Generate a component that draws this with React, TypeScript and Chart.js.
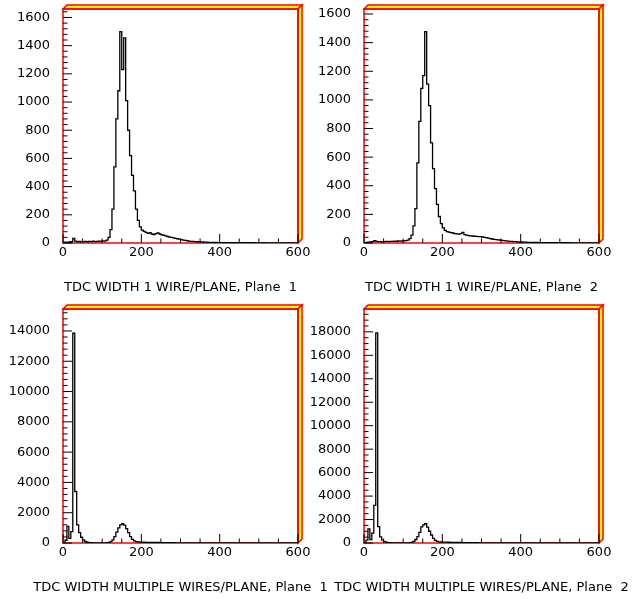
import React, { useEffect, useRef } from 'react';
import { Chart, registerables } from 'chart.js';

Chart.register(...registerables);

// ---- data: 120 bins of width 5 over 0..600 ----
const BIN_WIDTH = 5;
const X_MIN = 0;
const X_MAX = 600;
const X_MAJOR = 200;
const X_MINOR = 50;

const singlePlane1 = [
  3, 4, 6, 5, 7, 9, 32, 14, 9, 11,
  8, 10, 12, 9, 11, 10, 13, 10, 12, 14,
  12, 15, 13, 20, 40, 95, 240, 540, 880, 1080,
  1500, 1230, 1455, 1010, 800, 620, 480, 370, 240, 160,
  115, 92, 82, 76, 68, 74, 64, 60, 66, 72,
  64, 58, 55, 50, 46, 42, 40, 36, 33, 30,
  28, 24, 21, 18, 16, 14, 12, 11, 10, 9,
  8, 8, 7, 6, 6, 5, 5, 4, 4, 4,
  3, 3, 3, 3, 3, 2, 3, 2, 2, 2,
  2, 2, 2, 2, 2, 2, 2, 1, 2, 1,
  1, 1, 1, 2, 1, 1, 1, 1, 1, 1,
  1, 1, 1, 1, 1, 1, 1, 1, 1, 1,
];

const singlePlane2 = [
  2, 3, 5, 6, 7, 9, 16, 11, 9, 10,
  8, 10, 11, 10, 12, 11, 13, 12, 14, 13,
  14, 15, 17, 20, 30, 55, 120, 240, 560, 850,
  1080, 1170, 1476, 1110, 960, 700, 520, 380, 270, 185,
  135, 105, 88, 80, 76, 72, 70, 66, 64, 62,
  66, 74, 58, 55, 52, 50, 49, 47, 46, 45,
  44, 42, 40, 37, 34, 31, 28, 26, 24, 22,
  21, 19, 17, 15, 13, 12, 11, 10, 9, 8,
  7, 7, 6, 6, 5, 5, 5, 4, 4, 4,
  3, 3, 3, 3, 3, 3, 2, 2, 2, 2,
  2, 2, 2, 2, 2, 1, 2, 1, 1, 1,
  1, 1, 1, 1, 1, 1, 1, 1, 1, 1,
];

const multiPlane1 = [
  0, 30, 180, 1100, 300, 750, 13850, 3400, 1200, 680,
  380, 200, 100, 50, 25, 15, 10, 8, 6, 5,
  5, 6, 8, 15, 40, 90, 200, 420, 720, 1000,
  1200, 1270, 1180, 950, 680, 420, 240, 140, 90, 70,
  60, 55, 50, 46, 42, 40, 38, 36, 34, 32,
  30, 28, 26, 24, 22, 20, 18, 16, 14, 12,
  11, 10, 9, 8, 8, 7, 6, 6, 5, 5,
  5, 4, 4, 4, 3, 3, 3, 3, 3, 2,
  2, 2, 2, 2, 2, 2, 2, 2, 1, 2,
  1, 1, 1, 1, 1, 1, 1, 1, 1, 1,
  1, 1, 1, 1, 1, 1, 1, 1, 1, 1,
  1, 1, 1, 1, 1, 1, 1, 1, 1, 1,
];

const multiPlane2 = [
  0, 40, 250, 1200, 290, 850, 3200, 17920, 1400, 520,
  250, 120, 80, 40, 20, 12, 9, 7, 6, 6,
  6, 7, 10, 15, 30, 60, 140, 300, 550, 900,
  1380, 1550, 1640, 1350, 1000, 680, 400, 230, 140, 100,
  85, 78, 72, 68, 64, 60, 57, 54, 50, 47,
  44, 40, 37, 34, 31, 28, 25, 22, 20, 18,
  16, 14, 12, 11, 10, 9, 8, 7, 6, 6,
  5, 5, 4, 4, 4, 3, 3, 3, 3, 2,
  2, 2, 2, 2, 2, 2, 2, 1, 2, 1,
  1, 1, 1, 1, 1, 1, 1, 1, 1, 1,
  1, 1, 1, 1, 1, 1, 1, 1, 1, 1,
  1, 1, 1, 1, 1, 1, 1, 1, 1, 1,
];

const panelTitles = [
  'TDC WIDTH 1 WIRE/PLANE, Plane  1',
  'TDC WIDTH 1 WIRE/PLANE, Plane  2',
  'TDC WIDTH MULTIPLE WIRES/PLANE, Plane  1',
  'TDC WIDTH MULTIPLE WIRES/PLANE, Plane  2',
];
const panelYMax = [1660, 1635, 15450, 19950];
const panelYMajor = [200, 200, 2000, 2000];
const panelYMinor = [40, 40, 400, 500];

// ---- layout ----
const CANVAS_W = 634;
const Y_AXIS_W = 63;
const AREA_W = 235;
const AREA_TOP = 9;
const AREA_BOTTOM = 243;
const FONT = { family: 'DejaVu Sans', size: 13 };

type PanelProps = {
  counts: number[];
  title: string;
  ymax: number;
  major: number;
  minor: number;
  areaLeft: number;
  canvasTop: number;
  canvasHeight: number;
  titleY: number;
};

function makeFramePlugin(major: number, minor: number, title: string, titleY: number) {
  return {
    id: 'pawFrame',
    beforeDatasetsDraw(chart: any) {
      const { ctx, chartArea } = chart;
      const { left, right, top, bottom } = chartArea;
      const d = 4;
      ctx.save();
      ctx.lineWidth = 1.5;
      ctx.strokeStyle = '#ff0000';
      ctx.fillStyle = '#ffff00';
      ctx.lineJoin = 'miter';
      // top face
      ctx.beginPath();
      ctx.moveTo(left, top);
      ctx.lineTo(left + d, top - d);
      ctx.lineTo(right + d, top - d);
      ctx.lineTo(right, top);
      ctx.closePath();
      ctx.fill();
      ctx.stroke();
      // right face
      ctx.beginPath();
      ctx.moveTo(right, top);
      ctx.lineTo(right + d, top - d);
      ctx.lineTo(right + d, bottom - d);
      ctx.lineTo(right, bottom);
      ctx.closePath();
      ctx.fill();
      ctx.stroke();
      // front frame
      ctx.strokeRect(left, top, right - left, bottom - top);
      ctx.restore();
    },
    afterDatasetsDraw(chart: any) {
      const { ctx, chartArea, scales } = chart;
      const { left, right, bottom } = chartArea;
      ctx.save();
      ctx.strokeStyle = '#000';
      ctx.lineWidth = 1;
      ctx.beginPath();
      const ys = scales.y;
      const nY = Math.floor(ys.max / minor + 1e-9);
      for (let i = 0; i <= nY; i++) {
        const v = i * minor;
        const py = ys.getPixelForValue(v);
        const isMajor = Math.abs(v / major - Math.round(v / major)) < 1e-6;
        ctx.moveTo(left, py);
        ctx.lineTo(left + (isMajor ? 9 : 4.5), py);
      }
      const xs = scales.x;
      const nX = Math.round((X_MAX - X_MIN) / X_MINOR);
      for (let i = 0; i <= nX; i++) {
        const v = X_MIN + i * X_MINOR;
        const px = xs.getPixelForValue(v);
        const isMajor = v % X_MAJOR === 0;
        ctx.moveTo(px, bottom);
        ctx.lineTo(px, bottom - (isMajor ? 9 : 4.5));
      }
      ctx.stroke();
      // axis title (drawn without width compression)
      ctx.fillStyle = '#000';
      ctx.font = `${FONT.size}px "${FONT.family}"`;
      ctx.textAlign = 'center';
      ctx.textBaseline = 'middle';
      ctx.fillText(title, (left + right) / 2, titleY);
      ctx.restore();
    },
  };
}

function HistPanel(p: PanelProps) {
  const ref = useRef<HTMLCanvasElement>(null);
  useEffect(() => {
    if (!ref.current) return;
    const data = p.counts.map((c, i) => ({ x: X_MIN + i * BIN_WIDTH, y: c }));
    data.push({ x: X_MAX, y: p.counts[p.counts.length - 1] });
    const chart = new Chart(ref.current, {
      type: 'line',
      data: {
        datasets: [
          {
            data,
            stepped: 'after',
            borderColor: '#000',
            borderWidth: 1.3,
            pointRadius: 0,
            fill: false,
          },
        ],
      },
      options: {
        animation: false,
        responsive: false,
        events: [],
        layout: {
          padding: {
            left: p.areaLeft - Y_AXIS_W,
            right: CANVAS_W - p.areaLeft - AREA_W,
            top: AREA_TOP,
            bottom: 0,
          },
        },
        plugins: {
          legend: { display: false },
          tooltip: { enabled: false },
        },
        scales: {
          x: {
            type: 'linear',
            min: X_MIN,
            max: X_MAX,
            grid: { display: false, drawTicks: false },
            border: { display: false },
            ticks: {
              padding: 2,
              color: '#000',
              font: FONT,
              maxRotation: 0,
              autoSkip: false,
              callback: (v: any) => String(v),
            },
            afterBuildTicks: (s: any) => {
              const t = [];
              for (let v = X_MIN; v <= X_MAX; v += X_MAJOR) t.push({ value: v });
              s.ticks = t;
            },
            afterFit: (s: any) => {
              s.height = p.canvasHeight - AREA_BOTTOM;
              s.paddingLeft = 0;
              s.paddingRight = 0;
            },
          },
          y: {
            type: 'linear',
            min: 0,
            max: p.ymax,
            grid: { display: false, drawTicks: false },
            border: { display: false },
            ticks: {
              padding: 13,
              color: '#000',
              font: FONT,
              autoSkip: false,
              callback: (v: any) => String(v),
            },
            afterBuildTicks: (s: any) => {
              const t = [];
              for (let v = 0; v <= p.ymax; v += p.major) t.push({ value: v });
              s.ticks = t;
            },
            afterFit: (s: any) => {
              s.width = Y_AXIS_W;
              s.paddingTop = 0;
              s.paddingBottom = 0;
            },
          },
        },
      } as any,
      plugins: [makeFramePlugin(p.major, p.minor, p.title, p.titleY)],
    });
    return () => chart.destroy();
  }, []);
  return (
    <canvas
      ref={ref}
      width={CANVAS_W}
      height={p.canvasHeight}
      style={{ position: 'absolute', left: 0, top: p.canvasTop, display: 'block' }}
    />
  );
}

const panelCounts = [singlePlane1, singlePlane2, multiPlane1, multiPlane2];
const panelAreaLeft = [63, 364, 63, 364];
const panelCanvasTop = [0, 0, 300, 300];
const panelCanvasHeight = [300, 300, 299, 299];
const panelTitleY = [287.5, 287.5, 288, 288];

export default function App() {
  return (
    <div
      style={{
        position: 'absolute',
        left: 0,
        top: 0,
        width: CANVAS_W,
        height: 599,
        overflow: 'hidden',
        background: '#fff',
      }}
    >
      {panelCounts.map((counts, i) => (
        <HistPanel
          key={i}
          counts={counts}
          title={panelTitles[i]}
          ymax={panelYMax[i]}
          major={panelYMajor[i]}
          minor={panelYMinor[i]}
          areaLeft={panelAreaLeft[i]}
          canvasTop={panelCanvasTop[i]}
          canvasHeight={panelCanvasHeight[i]}
          titleY={panelTitleY[i]}
        />
      ))}
    </div>
  );
}
